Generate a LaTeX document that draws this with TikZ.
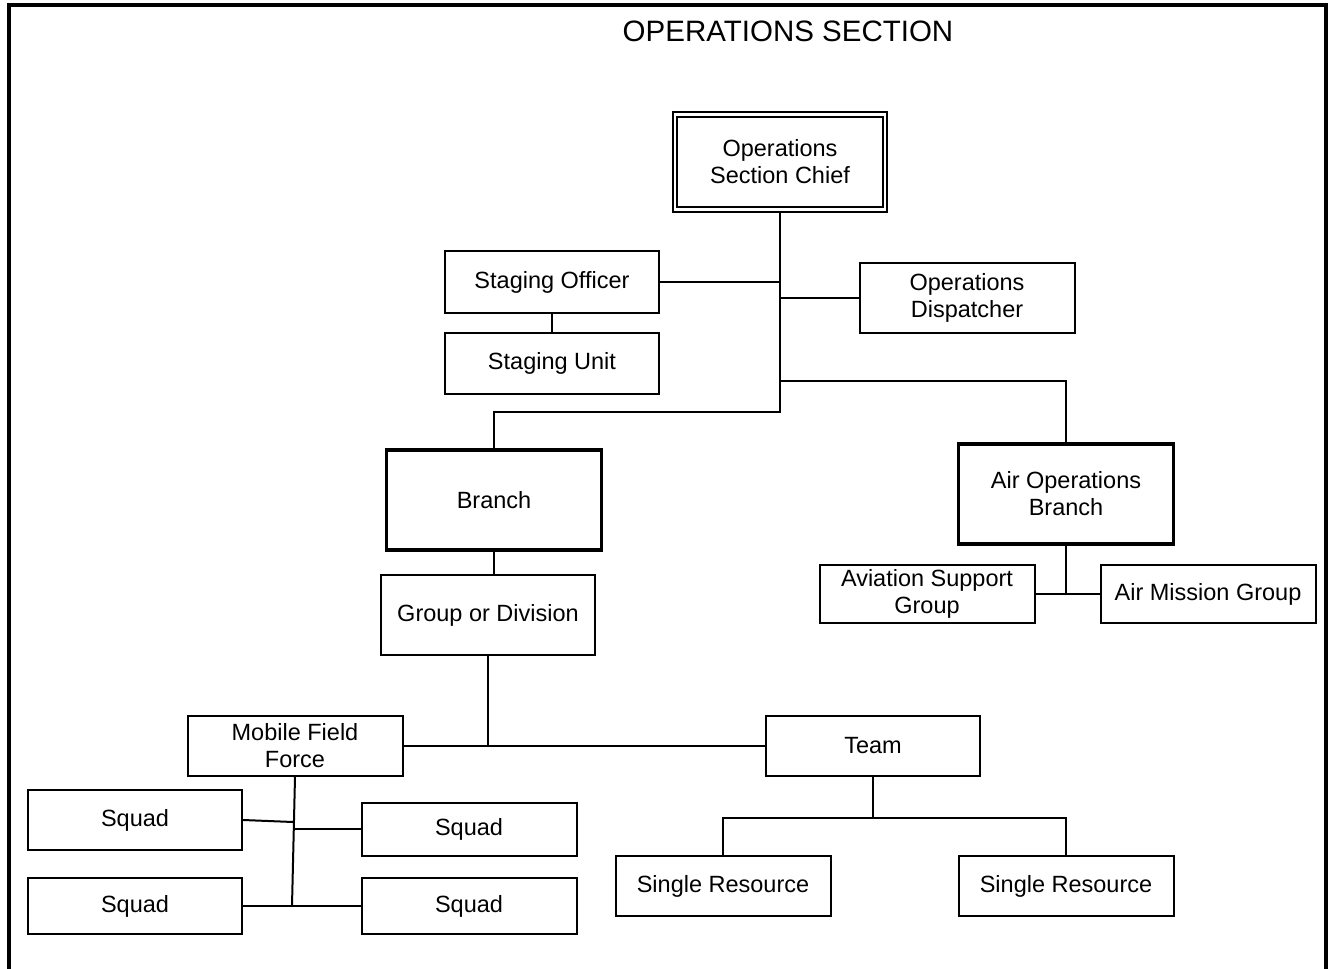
\documentclass[tikz,border=0pt]{standalone}
\usepackage{fontspec}
\setmainfont{Liberation Sans}
\usepackage{tikz}

\begin{document}
\begin{tikzpicture}[x=1pt, y=-1pt,
  every node/.style={align=center, inner sep=0pt, font=\fontsize{23.5}{27}\selectfont},
  box/.style={draw, line width=2pt, minimum width=214pt, minimum height=60pt},
  heavy/.style={box, line width=3.2pt, minimum width=215pt, minimum height=100pt},
  chief/.style={draw, double, line width=2pt, double distance=2.5pt, minimum width=210pt, minimum height=95pt},
  link/.style={line width=2pt}
]
\useasboundingbox (0,0) rectangle (1331,969);
\draw[line width=4pt] (9,975) -- (9,5) -- (1326,5) -- (1326,975);
\node[font=\fontsize{29.5}{34}\selectfont] (title) at (788,31) {OPERATIONS SECTION};

\node[chief] (osc) at (780,162) {Operations\\Section Chief};
\node[box, minimum height=62pt] (stoff) at (552,282) {Staging Officer};
\node[box, minimum height=61pt] (stunit) at (552,363) {Staging Unit};
\node[box, minimum height=70pt, minimum width=215pt] (disp) at (967,298) {Operations\\Dispatcher};
\node[heavy] (branch) at (494,500) {Branch};
\node[heavy] (airops) at (1066,494) {Air Operations\\Branch};
\node[box, minimum height=58pt, minimum width=215pt] (avsup) at (927,594) {Aviation Support\\Group};
\node[box, minimum height=58pt, minimum width=215pt] (airmis) at (1208,594) {Air Mission Group};
\node[box, minimum height=80pt] (grpdiv) at (488,615) {Group or Division};
\node[box, minimum width=215pt] (mff) at (295,746) {Mobile Field\\Force};
\node[box] (team) at (873,746) {Team};
\node[box] (sq1) at (135,820) {Squad};
\node[box, minimum height=53pt, minimum width=215pt] (sq2) at (469,829) {Squad};
\node[box, minimum height=56pt] (sq3) at (135,906) {Squad};
\node[box, minimum height=56pt, minimum width=215pt] (sq4) at (469,906) {Squad};
\node[box, minimum width=215pt] (sr1) at (723,886) {Single Resource};
\node[box, minimum width=215pt] (sr2) at (1066,886) {Single Resource};

% junctions
\coordinate (j1) at (780,412);
\coordinate (j2) at (780,381);
\coordinate (j4) at (873,818);
\coordinate (j5) at (292,906);
\coordinate (j6) at (293,822);
\coordinate (j7) at (293,829);

\draw[link] (osc.south) -- (j1) -| (branch.north);
\draw[link] (stoff.east) -- (stoff.east -| osc.south);
\draw[link] (disp.west) -- (disp.west -| osc.south);
\draw[link] (j2) -| (airops.north);
\draw[link] (stoff) -- (stunit);
\draw[link] (branch.south) -- (branch.south |- grpdiv.north);
\draw[link] (airops.south) -- (airops.south |- avsup.east);
\draw[link] (avsup.east) -- (airmis.west);
\draw[link] (grpdiv.south) -- (grpdiv.south |- mff.east);
\draw[link] (mff.east) -- (team.west);
\draw[link] (team.south) -- (j4);
\draw[link] (sr1.north) |- (j4) -| (sr2.north);
\draw[link] (mff.south) -- (j5);
\draw[link] (sq1.east) -- (j6);
\draw[link] (j7) -- (sq2.west);
\draw[link] (sq3.east) -- (sq4.west);
\end{tikzpicture}
\end{document}
